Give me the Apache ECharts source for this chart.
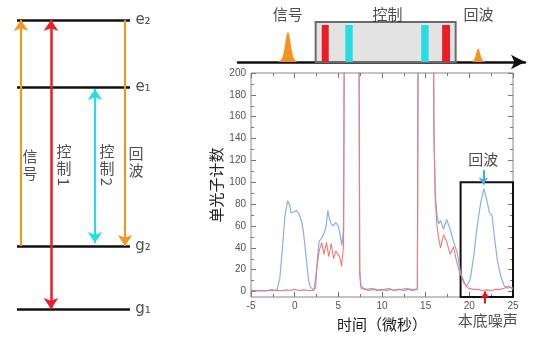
<!DOCTYPE html>
<html><head><meta charset="utf-8">
<script src="https://cdn.jsdelivr.net/npm/echarts@6/dist/echarts.min.js"></script>
<style>html,body{margin:0;padding:0;background:#fff}#c{width:544px;height:348px}</style>
</head><body><div id="c"></div>
<script>
// ---------- data ----------
const timeTicks = [-5, 0, 5, 10, 15, 20, 25];
const countTicks = [0, 20, 40, 60, 80, 100, 120, 140, 160, 180, 200];
const countMinor = [10, 30, 50, 70, 90, 110, 130, 150, 170, 190];

// blue: with signal (time µs, counts)
const blueData = [
  [-5,1],[-4.6,1],[-4.2,0.5],[-3.8,1],[-3.4,0.5],[-3,1],[-2.6,2],[-2.3,1],[-2,2],[-1.7,12],[-1.4,40],
  [-1.1,70],[-0.8,83],[-0.6,80],[-0.4,72],[-0.1,73],[0.2,74],[0.5,71],[0.8,64],[1.0,55],[1.2,40],
  [1.4,25],[1.6,10],[1.8,4],[2.1,2],[2.4,3],[2.6,30],[2.8,46],[3.1,49],[3.4,54],[3.6,60],[3.8,74],
  [4.0,66],[4.2,62],[4.4,60],[4.7,63],[5.0,60],[5.2,52],[5.4,42],[5.6,57],[5.75,400],[7.3,400],
  [7.45,20],[7.6,5],[7.9,3],[8.3,2],[8.8,3],[9.3,2],[9.8,1],[10.3,2],[10.8,3],[11.3,1],[11.8,2],
  [12.3,2],[12.8,3],[13.3,2],[13.8,2],[14.05,2],[14.2,400],[15.8,400],[15.95,150],[16.1,90],
  [16.3,70],[16.5,62],[16.7,65],[17.05,57],[17.4,66],[17.8,57],[18.2,45],[18.6,36],[19.0,17],
  [19.35,8],[19.7,5],[20.1,11],[20.5,32],[20.9,60],[21.3,81],[21.65,94],[22.0,84],[22.3,72],
  [22.6,70],[22.9,48],[23.2,29],[23.6,14],[24.0,5],[24.4,3],[24.7,4],[25,3]
];
// red: without signal (noise floor)
const redData = [
  [-5,1],[-4.5,0.5],[-4,1],[-3.5,0.5],[-3,1],[-2.5,1],[-2,1],[-1.5,1],[-1,1.5],[-0.5,1],[0,2],
  [0.5,1],[1,1.5],[1.5,1],[2.2,1],[2.4,2],[2.6,25],[2.8,37],[3.1,45],[3.35,34],[3.65,45],[3.9,32],
  [4.2,44],[4.45,30],[4.7,37],[5.15,32],[5.37,23],[5.6,42],[5.75,400],[7.3,400],[7.45,15],[7.6,3],
  [8.0,2],[8.5,1],[9.0,2],[9.5,1],[10.0,2],[10.5,1],[11.0,2],[11.5,1],[12.0,2],[12.5,1],[13.0,2],
  [13.5,1],[14.05,2],[14.2,400],[15.8,400],[15.95,140],[16.1,84],[16.3,60],[16.5,48],[16.7,40],
  [17.05,52],[17.4,46],[17.8,34],[18.2,41],[18.5,29],[18.9,17],[19.2,13],[19.6,5],[19.9,3],
  [20.5,2],[21,2],[21.5,1],[22,1.5],[22.5,1],[23,2],[23.5,2],[24,3],[24.5,5],[25,2]
];
const echoBox = [[19, 100], [25, -5]];

// timeline schematic (time µs, relative height)
const signalPulse = [[-1.9,0],[-1.5,3],[-1.2,12],[-0.97,25],[-0.77,30],[-0.57,25],[-0.35,12],[-0.05,3],[0.35,0]];
const echoPulse = [[20.35,0],[20.6,3],[20.82,9],[21.03,13.5],[21.24,9],[21.46,3],[21.85,0]];
const controlWindow = [2.4, 18.45, 40];
const redPulses = [[3.1, 3.9, 37], [16.9, 17.8, 37]];
const cyanPulses = [[5.8, 6.65, 37], [14.5, 15.35, 37]];
const timelineLabels = [['信号', -0.8, 48], ['控制', 10.65, 48], ['回波', 21.07, 48]];

// energy levels (relative energy)
const levels = [['e₂', 289], ['e₁', 222], ['g₂', 63], ['g₁', 0]];
// transitions: [x position, from level, to level, colour, both ends?]
const transitions = [
  [21, 63, 289, '#f7941d', false],
  [51, 289, 0, '#ee1c25', true],
  [95, 220, 66, '#22e0e8', true],
  [125, 289, 63, '#f7941d', false]
];
const transitionLabels = [['信\n号', 30, 144, 0], ['控\n制', 64, 149, 0], ['1', 64, 127, -90],
  ['控\n制', 107, 149, 0], ['2', 107, 127, -90], ['回\n波', 136, 147, 0]];

// ---------- chart ----------
const CJK = '"Noto Sans CJK SC", sans-serif';
const chart = echarts.init(document.getElementById('c'), null, {renderer: 'canvas'});

function rectItem(color, stroke) {
  return function (params, api) {
    const p0 = api.coord([api.value(0), api.value(2)]);
    const p1 = api.coord([api.value(1), 0]);
    return {
      type: 'rect',
      shape: {x: p0[0], y: p0[1], width: p1[0] - p0[0], height: p1[1] - p0[1]},
      style: stroke ? {fill: color, stroke: stroke, lineWidth: 2} : {fill: color}
    };
  };
}
function textSeries(xi, yi, items, size, family) {
  return {
    type: 'scatter', xAxisIndex: xi, yAxisIndex: yi, symbolSize: 0, silent: true, clip: false, z: 10,
    data: items.map(d => ({name: d[0], value: [d[1], d[2]], label: {rotate: d[3] || 0}})),
    label: {show: true, position: 'inside', formatter: '{b}', color: '#222', fontSize: size,
      fontFamily: family || CJK, lineHeight: size + 2}
  };
}

const tickStyle = {color: '#777', width: 1};
const noLine = {show: false, onZero: false};
const option = {
  animation: false,
  grid: [
    {left: 251, right: 31, top: 73, bottom: 51, show: true, borderColor: '#888', borderWidth: 1},
    {left: 238, right: 19, top: 2, bottom: 286},
    {left: 0, width: 200, top: 20, height: 289}
  ],
  xAxis: [
    {gridIndex: 0, type: 'value', min: -5, max: 25, interval: 5, position: 'bottom',
      axisLine: noLine, splitLine: {show: false},
      axisTick: {inside: true, length: 5, lineStyle: tickStyle},
      minorTick: {show: true, splitNumber: 2, length: 3, lineStyle: tickStyle},
      axisLabel: {color: '#555', fontSize: 10, margin: 4, fontFamily: 'Liberation Sans'},
      name: '时间（微秒）', nameLocation: 'middle', nameGap: 20,
      nameTextStyle: {fontFamily: CJK, fontSize: 15, color: '#222'}},
    {gridIndex: 0, type: 'value', min: -5, max: 25, interval: 5, position: 'top',
      axisLine: noLine, splitLine: {show: false}, axisLabel: {show: false},
      axisTick: {inside: true, length: 5, lineStyle: tickStyle},
      minorTick: {show: true, splitNumber: 2, length: 3, lineStyle: tickStyle}},
    {gridIndex: 1, type: 'value', min: -6.5, max: 26.4, position: 'bottom',
      axisLine: {show: true, onZero: false, symbol: ['none', 'arrow'], symbolSize: [11, 14],
        lineStyle: {color: '#111', width: 2.5}},
      axisTick: {show: false}, axisLabel: {show: false}, splitLine: {show: false}},
    {gridIndex: 2, type: 'value', min: 0, max: 200, show: false}
  ],
  yAxis: [
    {gridIndex: 0, type: 'value', min: -5, max: 200, position: 'left',
      axisLine: noLine, splitLine: {show: false},
      axisTick: {show: true, inside: true, length: 5, lineStyle: tickStyle, customValues: countTicks},
      axisLabel: {color: '#555', fontSize: 10, margin: 5, fontFamily: 'Liberation Sans', customValues: countTicks},
      name: '单光子计数', nameLocation: 'middle', nameGap: 27, nameRotate: 90,
      nameTextStyle: {fontFamily: CJK, fontSize: 15, color: '#222'}},
    {gridIndex: 0, type: 'value', min: -5, max: 200, position: 'left',
      axisLine: noLine, splitLine: {show: false}, axisLabel: {show: false},
      axisTick: {show: true, inside: true, length: 3, lineStyle: tickStyle, customValues: countMinor}},
    {gridIndex: 0, type: 'value', min: -5, max: 200, position: 'right',
      axisLine: noLine, splitLine: {show: false}, axisLabel: {show: false},
      axisTick: {show: true, inside: true, length: 5, lineStyle: tickStyle, customValues: countTicks}},
    {gridIndex: 0, type: 'value', min: -5, max: 200, position: 'right',
      axisLine: noLine, splitLine: {show: false}, axisLabel: {show: false},
      axisTick: {show: true, inside: true, length: 3, lineStyle: tickStyle, customValues: countMinor}},
    {gridIndex: 1, type: 'value', min: 0, max: 60, show: false},
    {gridIndex: 2, type: 'value', min: 0, max: 289, show: false}
  ],
  series: [
    // main plot
    {type: 'line', xAxisIndex: 0, yAxisIndex: 0, data: blueData, showSymbol: false, z: 3,
      lineStyle: {color: '#89b0e8', width: 1.2}, itemStyle: {color: '#89b0e8'},
      markArea: {silent: true, itemStyle: {color: 'rgba(0,0,0,0)', borderColor: '#111', borderWidth: 2},
        data: [[{xAxis: echoBox[0][0], yAxis: echoBox[0][1]}, {xAxis: echoBox[1][0], yAxis: echoBox[1][1]}]]}},
    {type: 'line', xAxisIndex: 0, yAxisIndex: 0, data: redData, showSymbol: false, z: 4,
      lineStyle: {color: '#f07b7b', width: 1.1}, itemStyle: {color: '#f07b7b'}},
    {type: 'lines', coordinateSystem: 'cartesian2d', xAxisIndex: 0, yAxisIndex: 0, clip: false, silent: true, z: 6,
      symbol: ['none', 'arrow'], symbolSize: 7,
      data: [{coords: [[21.6, 111], [21.6, 98]], lineStyle: {color: '#3fa9f5', width: 2, opacity: 1}},
             {coords: [[21.8, -11], [21.8, 0]], lineStyle: {color: '#e8141c', width: 2, opacity: 1}}]},
    textSeries(0, 0, [['回波', 21.6, 121], ['本底噪声', 22.1, -26]], 15),

    // timeline schematic
    {type: 'custom', xAxisIndex: 2, yAxisIndex: 4, renderItem: rectItem('#e3e3e3', '#6b6b6b'),
      data: [controlWindow], z: 2, clip: false},
    {type: 'custom', xAxisIndex: 2, yAxisIndex: 4, renderItem: rectItem('#ea1c24'), data: redPulses, z: 3},
    {type: 'custom', xAxisIndex: 2, yAxisIndex: 4, renderItem: rectItem('#27dde3'), data: cyanPulses, z: 3},
    {type: 'line', xAxisIndex: 2, yAxisIndex: 4, data: signalPulse, smooth: 0.4, showSymbol: false,
      lineStyle: {width: 0}, areaStyle: {color: '#f7921e', opacity: 1}, z: 2},
    {type: 'line', xAxisIndex: 2, yAxisIndex: 4, data: echoPulse, smooth: 0.4, showSymbol: false,
      lineStyle: {width: 0}, areaStyle: {color: '#f7921e', opacity: 1}, z: 2},
    textSeries(2, 4, timelineLabels, 15),

    // energy-level diagram
    {type: 'lines', coordinateSystem: 'cartesian2d', xAxisIndex: 3, yAxisIndex: 5, clip: false, silent: true,
      symbol: 'none', lineStyle: {color: '#111', width: 2.5, opacity: 1}, z: 2,
      data: levels.map(l => ({coords: [[17, l[1]], [130, l[1]]]}))},
    {type: 'lines', coordinateSystem: 'cartesian2d', xAxisIndex: 3, yAxisIndex: 5, clip: false, silent: true,
      symbolSize: 11, z: 3,
      data: transitions.map(t => ({coords: [[t[0], t[1]], [t[0], t[2]]],
        symbol: [t[4] ? 'arrow' : 'none', 'arrow'],
        lineStyle: {color: t[3], width: t[3] === '#ee1c25' ? 2.5 : 2, opacity: 1}}))},
    textSeries(3, 5, levels.map(l => [l[0], 143, l[1]]), 15, '"DejaVu Sans", sans-serif'),
    textSeries(3, 5, transitionLabels, 15)
  ]
};
chart.setOption(option);
</script></body></html>
